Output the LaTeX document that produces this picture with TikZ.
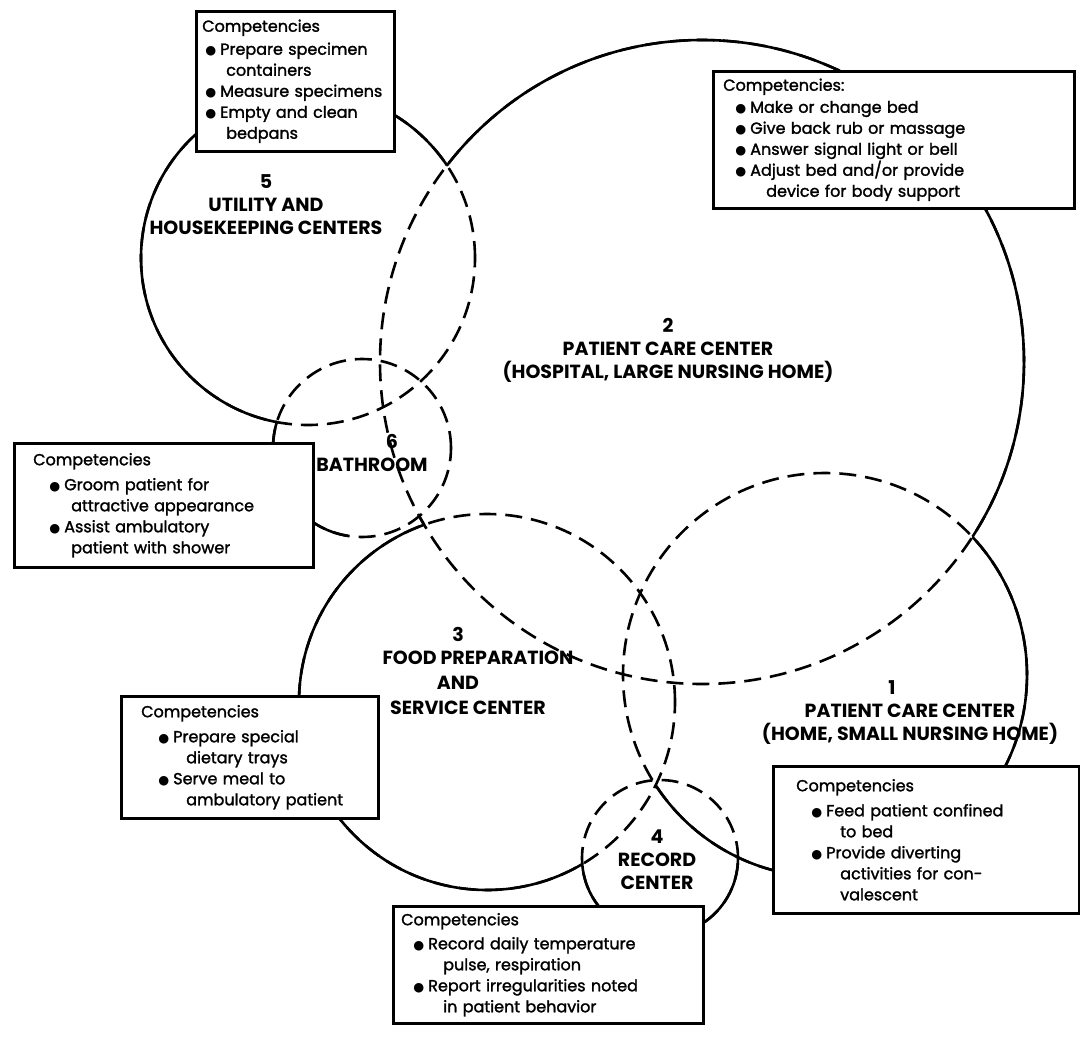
\documentclass[tikz,border=0pt]{standalone}
\usepackage{fontspec}
\setmainfont{Poppins}
\newfontfamily\boxfont{Poppins}[FakeBold=1.6]
\newfontfamily\dotfont{DejaVu Sans}
\usepackage{tikz}

% bullet line and its run-on line inside a box
\newcommand{\bitem}[1][14pt]{\hspace*{#1}\makebox[15pt][l]{\dotfont\fontsize{12.5pt}{12pt}\selectfont ●}}
\newcommand{\bmore}[1][40pt]{\hspace*{#1}}
% clip away one area (solid rim only outside the others)
\newcommand{\cutout}[2]{\clip (-20,-20) rectangle (1100,1070) (#1) circle[radius=#2];}

\begin{document}
\begin{tikzpicture}[
    x=1pt, y=-1pt,
    ring/.style={line width=2.6pt, color=black},
    dashring/.style={ring, dash pattern=on 17pt off 9pt},
    compbox/.style={
        rectangle,
        draw,
        fill=white,
        line width=2.5pt,
        anchor=north west,
        align=left,
        inner xsep=6pt,
        inner ysep=5pt,
        font=\boxfont\fontsize{16pt}{21pt}\selectfont
    },
    arealabel/.style={align=center, font=\bfseries\fontsize{19pt}{23pt}\selectfont}
]
\fill[white] (0,0) rectangle (1080,1047);
\useasboundingbox (0,0) rectangle (1080,1047);

% centres of the six areas
\coordinate (util) at (308,258);
\coordinate (hosp) at (702,362);
\coordinate (bath) at (362,448);
\coordinate (food) at (487,702);
\coordinate (home) at (825,675);
\coordinate (rec) at (660,858);

% every rim dashed first
\foreach \c/\r in {util/167pt, hosp/322pt, bath/89pt, food/188pt, home/202pt, rec/78pt}
    \draw[dashring] (\c) circle[radius=\r];

% solid where a rim runs outside the other areas
\begin{scope}[even odd rule]
    \cutout{hosp}{322pt}\cutout{bath}{89pt}
    \draw[ring] (util) circle[radius=167pt];
\end{scope}
\begin{scope}[even odd rule]
    \cutout{util}{167pt}\cutout{bath}{89pt}\cutout{food}{188pt}\cutout{home}{202pt}
    \draw[ring] (hosp) circle[radius=322pt];
\end{scope}
\begin{scope}[even odd rule]
    \clip (-20,-20) rectangle (348,1070);
    \cutout{util}{167pt}\cutout{hosp}{322pt}\cutout{food}{188pt}
    \draw[ring] (bath) circle[radius=89pt];
\end{scope}
\begin{scope}[even odd rule]
    \cutout{hosp}{322pt}\cutout{bath}{89pt}\cutout{home}{202pt}\cutout{rec}{78pt}
    \draw[ring] (food) circle[radius=188pt];
\end{scope}
\begin{scope}[even odd rule]
    \cutout{hosp}{322pt}\cutout{food}{188pt}
    \draw[ring] (home) circle[radius=202pt];
\end{scope}
\begin{scope}[even odd rule]
    \cutout{food}{188pt}\cutout{home}{202pt}
    \draw[ring] (rec) circle[radius=78pt];
\end{scope}

% competency boxes
\node[compbox, text width=186pt, minimum height=140pt] (utilbox) at (195,10)
    {Competencies\\[2pt]
     \bitem[3pt]Prepare specimen\\ \bmore[24pt]containers\\
     \bitem[3pt]Measure specimens\\
     \bitem[3pt]Empty and clean\\ \bmore[24pt]bedpans};
\node[compbox, text width=349pt, minimum height=137pt] (hospbox) at (712,70)
    {\hspace*{4pt}Competencies:\\[1pt]
     \bitem[16pt]Make or change bed\\
     \bitem[16pt]Give back rub or massage\\
     \bitem[16pt]Answer signal light or bell\\
     \bitem[16pt]Adjust bed and/or provide\\ \bmore[47pt]device for body support};
\node[compbox, text width=287pt, minimum height=124pt] (bathbox) at (13,442)
    {\hspace*{13pt}Competencies\\[4pt]
     \bitem[29pt]Groom patient for\\ \bmore[51pt]attractive appearance\\
     \bitem[29pt]Assist ambulatory\\ \bmore[51pt]patient with shower};
\node[compbox, text width=245pt, minimum height=122pt] (foodbox) at (120,695)
    {\hspace*{14pt}Competencies\\[4pt]
     \bitem[31pt]Prepare special\\ \bmore[59pt]dietary trays\\
     \bitem[31pt]Serve meal to\\ \bmore[59pt]ambulatory patient};
\node[compbox, text width=294pt, minimum height=147pt] (homebox) at (772,765)
    {\hspace*{17pt}Competencies\\[4pt]
     \bitem[32pt]Feed patient confined\\ \bmore[61pt]to bed\\
     \bitem[32pt]Provide diverting\\ \bmore[61pt]activities for con-\\ \bmore[61pt]valescent};
\node[compbox, text width=298pt, minimum height=117pt] (recbox) at (392,905)
    {\hspace*{2pt}Competencies\\[3pt]
     \bitem[14pt]Record daily temperature\\ \bmore[44pt]pulse, respiration\\
     \bitem[14pt]Report irregularities noted\\ \bmore[44pt]in patient behavior};

% area names
\node[arealabel] (utiltext) at (266,205) {5\\UTILITY AND\\HOUSEKEEPING CENTERS};
\node[arealabel] (hosptext) at (668,350) {2\\PATIENT CARE CENTER\\(HOSPITAL, LARGE NURSING HOME)};
\node[arealabel] (bathtext) at (372,453) {\rule{40pt}{0pt}6\\BATHROOM};
\node[arealabel] (foodtext) at (478,671) {3\rule{40pt}{0pt}\\FOOD PREPARATION\\[2pt]AND\rule{40pt}{0pt}\\[2pt]SERVICE CENTER\rule{20pt}{0pt}};
\node[arealabel] (hometext) at (910,713) {1\rule{36pt}{0pt}\\PATIENT CARE CENTER\\(HOME, SMALL NURSING HOME)};
\node[arealabel] (rectext) at (657,860) {4\\RECORD\\CENTER};
\end{tikzpicture}
\end{document}
